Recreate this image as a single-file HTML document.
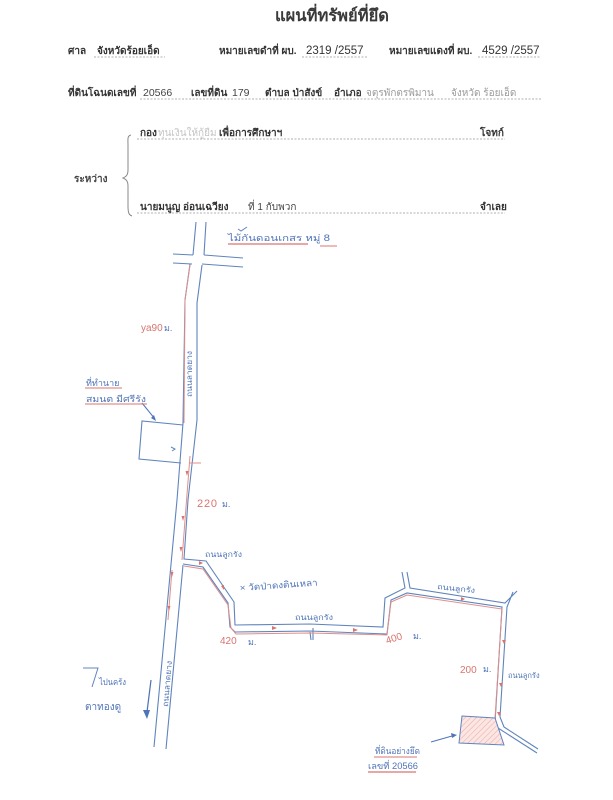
<!DOCTYPE html>
<html><head><meta charset="utf-8">
<style>
html,body{margin:0;padding:0;background:#fff;width:613px;height:800px;overflow:hidden}
svg{display:block;filter:blur(.35px)}
text{font-family:"Liberation Sans","Noto Sans CJK SC",sans-serif}
.b{font-size:10px;font-weight:bold;fill:#333}
.n{font-size:10px;fill:#444}
.g{font-size:10px;fill:#9a9a9a}
.h{fill:#4f74b8;font-size:9px}
.r{fill:#d9756f;font-size:10px}
.road{fill:none;stroke:#5f84bd;stroke-width:1.1}
.red{fill:none;stroke:#e08f8a;stroke-width:1}
.dot{stroke:#999;stroke-width:.7;stroke-dasharray:2 1.5;fill:none}
</style></head><body>
<svg width="613" height="800" viewBox="0 0 613 800" xmlns="http://www.w3.org/2000/svg">
<defs>
<pattern id="hat" width="4" height="4" patternUnits="userSpaceOnUse" patternTransform="rotate(-45)">
<rect width="4" height="4" fill="#fbe6e3"/><line x1="0" y1="0" x2="4" y2="0" stroke="#eba9a4" stroke-width="1"/>
</pattern>
</defs>
<text x="332" y="21" text-anchor="middle" style="font-size:16.5px;font-weight:bold;fill:#3a3a3a">แผนที่ทรัพย์ที่ยึด</text>

<text x="68" y="54" class="b">ศาล</text>
<text x="97" y="54" class="b">จังหวัดร้อยเอ็ด</text>
<path d="M94 57H165" class="dot"/>
<text x="219" y="54" class="b">หมายเลขดำที่ ผบ.</text>
<text x="306" y="54" style="font-size:11.5px;fill:#333">2319 /2557</text>
<path d="M302 57H368" class="dot"/>
<text x="389" y="54" class="b">หมายเลขแดงที่ ผบ.</text>
<text x="482" y="54" style="font-size:11.5px;fill:#333">4529 /2557</text>
<path d="M478 57H541" class="dot"/>

<text x="68" y="96" class="b">ที่ดินโฉนดเลขที่</text>
<text x="143" y="96" style="font-size:10.5px;fill:#444">20566</text>
<text x="191" y="96" class="b">เลขที่ดิน</text>
<text x="232" y="96" style="font-size:10.5px;fill:#444">179</text>
<text x="265" y="96" class="b">ตำบล ป่าสังข์</text>
<text x="334" y="96" class="b">อำเภอ</text>
<text x="366" y="96" class="g">จตุรพักตรพิมาน</text>
<text x="451" y="96" class="g">จังหวัด ร้อยเอ็ด</text>
<path d="M140 99H541" class="dot"/>

<text x="140" y="136" class="b">กอง</text>
<text x="158" y="136" style="font-size:10px;fill:#c4c4c4">ทุนเงินให้กู้ยืม</text>
<text x="219" y="136" class="b">เพื่อการศึกษาฯ</text>
<text x="480" y="136" class="b">โจทก์</text>
<path d="M137 139H505" class="dot"/>

<text x="74" y="182" class="n" style="font-weight:bold">ระหว่าง</text>
<path d="M131 135C127 136 128 139 128 146V170C128 176 125 177 123 178C125 179 128 180 128 186V206C128 213 129 215 132 216" fill="none" stroke="#888" stroke-width="1"/>

<text x="140" y="210" class="b">นายมนูญ อ่อนเฉวียง</text>
<text x="248" y="210" class="n">ที่ 1 กับพวก</text>
<text x="480" y="210" class="b">จำเลย</text>
<path d="M137 213H505" class="dot"/>

<!-- roads -->
<path class="road" d="M196 222L193 255M173 254L193 255M204 255L243 258M206 222L204 255M173 263L192 264M202 264L243 267"/>
<path class="road" d="M190 264L185 300L183 423L177 500L154 747"/>
<path class="road" d="M202 265L197 303L197 420L188 500L184 559L206 561L234 602L235 625L310 624L383 627L385 598L405 588L402 572"/>
<path class="road" d="M183 564L203 567L228 603L230 627L235 632L310 631L387 634L391 600L407 593L502 607L495 723L498 728L537 753"/>
<path class="road" d="M183 565L166 749"/>
<path class="road" d="M407 572L410 588L505 603L517 591M513 592L507 607L500 717L504 727L538 749"/>
<path class="road" d="M310 632L311 640M313 628L313 640"/>

<!-- red route -->
<path class="red" d="M190 265L185 300L184 423"/>
<path class="red" d="M190 456L185 520L182 560M189 463H201"/>
<path class="red" d="M172 570L168 620M184 566L203 569L228 605L231 628L236 634L310 633L387 635L391 602L407 595L502 609L495 718"/>
<path d="M187 476l-1.5 -5h3zM183 521l-1.5 -5h3zM181 552l-1.5 -5h3zM172 577l1.5 -5h-3zM169 611l1.5 -5h-3zM203 563l-4 -2v4zM224 590l-3 -4l3 -1zM277 628l-5 -2v4zM358 630l-5 -2v4zM465 599l-4 -2v4zM504 644l-2 -4h4zM501 687l-2 -4h4zM499 716l-2 -4h4z" fill="#d9756f"/>

<!-- plots -->
<path class="road" d="M183 425L142 421L139 459L181 463"/>
<path d="M171 447l4 2l-3 2" fill="none" stroke="#5f84bd"/>
<path d="M462 716L495 718L504 745L459 743Z" fill="url(#hat)" stroke="#5f84bd" stroke-width="1"/>

<!-- arrows -->
<path d="M142 403L155 419" stroke="#4f74b8" fill="none"/><path d="M156 421l-5 -3l3 -3z" fill="#4f74b8"/>
<path d="M431 742L452 736" stroke="#4f74b8" fill="none"/><path d="M457 735l-6 -2l1 5z" fill="#4f74b8"/>
<path d="M151 680L147 712" stroke="#4f74b8" stroke-width="1.2" fill="none"/><path d="M147 719l-4 -9h7z" fill="#4f74b8"/>

<!-- handwriting -->
<text x="228" y="241" class="h" textLength="102" lengthAdjust="spacingAndGlyphs">ไม้กันดอนเกสร หมู่ 8</text>
<path d="M228 244H308" stroke="#d9756f" stroke-width="1.2"/>
<path d="M320 246H337" stroke="#d9756f" stroke-width="1"/>
<path d="M238 229l3 2l6 -4" stroke="#5f84bd" fill="none"/>
<text x="141" y="331" class="r">ya90</text><text x="164" y="331" class="h">ม.</text>
<text transform="translate(192,397) rotate(-90)" style="font-size:8px;fill:#4f74b8" textLength="46" lengthAdjust="spacingAndGlyphs">ถนนลาดยาง</text>
<text x="86" y="386" class="h">ที่ทำนาย</text>
<path d="M85 388H122" stroke="#d9756f" stroke-width="1"/>
<text x="86" y="402" class="h" textLength="60" lengthAdjust="spacingAndGlyphs">สมนต มีศรีรัง</text>
<path d="M85 404H147" stroke="#d9756f" stroke-width="1"/>
<text x="197" y="507" class="r" style="font-size:11px" textLength="20">220</text><text x="222" y="507" class="h">ม.</text>
<text x="205" y="557" style="font-size:7.5px;fill:#4f74b8" textLength="37" lengthAdjust="spacingAndGlyphs">ถนนลูกรัง</text>
<text transform="translate(240,591) rotate(-4)" class="h" textLength="78" lengthAdjust="spacingAndGlyphs">× วัดป่าดงดินเหลา</text>
<text x="295" y="620" style="font-size:7.5px;fill:#4f74b8" textLength="38" lengthAdjust="spacingAndGlyphs">ถนนลูกรัง</text>
<text x="220" y="644" class="r">420</text><text x="248" y="645" class="h">ม.</text>
<text transform="translate(387,644) rotate(-18)" class="r">400</text><text x="413" y="639" class="h">ม.</text>
<text transform="translate(437,589) rotate(6)" style="font-size:7.5px;fill:#4f74b8" textLength="38" lengthAdjust="spacingAndGlyphs">ถนนลูกรัง</text>
<text x="460" y="673" class="r">200</text><text x="483" y="672" class="h">ม.</text>
<text x="508" y="678" style="font-size:7.5px;fill:#4f74b8">ถนนลูกรัง</text>
<text transform="translate(168,707) rotate(-85)" style="font-size:8px;fill:#4f74b8" textLength="46" lengthAdjust="spacingAndGlyphs">ถนนลาดยาง</text>
<path d="M83 668H98L92 687" stroke="#5f84bd" fill="none"/>
<text x="99" y="685" class="h" textLength="27" lengthAdjust="spacingAndGlyphs">ไปนครัง</text>
<text x="85" y="710" class="h" style="font-size:10px">ตาทองดู</text>
<text x="375" y="754" class="h" textLength="45" lengthAdjust="spacingAndGlyphs">ที่ดินอย่างยึด</text>
<path d="M374 757H417" stroke="#d9756f" stroke-width="1"/>
<text x="368" y="769" class="h" textLength="50" lengthAdjust="spacingAndGlyphs">เลขที่ 20566</text>
<path d="M368 772H416" stroke="#d9756f" stroke-width="1.2"/>
</svg>
</body></html>
